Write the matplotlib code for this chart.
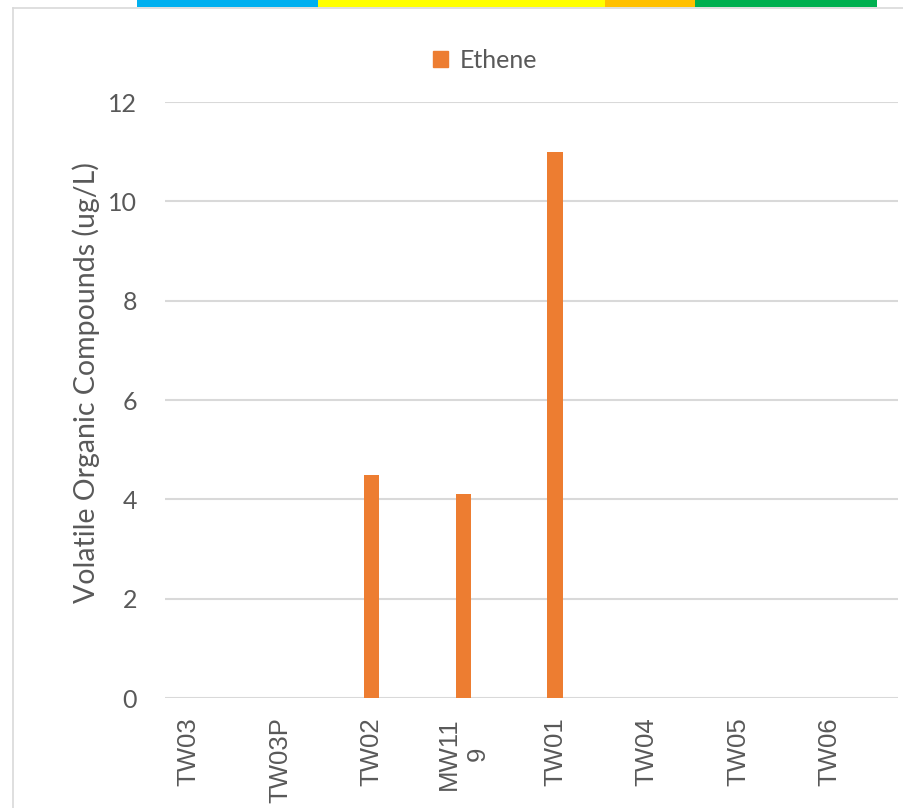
import matplotlib
matplotlib.use("Agg")
import matplotlib.pyplot as plt
from matplotlib.patches import Rectangle
from matplotlib.lines import Line2D

categories = ["TW03", "TW03P", "TW02", "MW11\n9", "TW01", "TW04", "TW05", "TW06"]
ethene = [0, 0, 4.5, 4.1, 11, 0, 0, 0]
y_ticks = [0, 2, 4, 6, 8, 10, 12]
band_colors = ["#00b0f0", "#ffff00", "#ffc000", "#00b050"]
band_edges_px = [137, 318, 605, 695, 877]

W, H = 904, 808
fig = plt.figure(figsize=(W / 100, H / 100), dpi=100)
fig.patch.set_facecolor("white")

def fx(px):
    return px / W

def fy(py):
    return 1 - py / H

# top colored bands
for i, c in enumerate(band_colors):
    x0, x1 = band_edges_px[i], band_edges_px[i + 1]
    fig.patches.append(Rectangle((fx(x0), fy(6.5)), fx(x1 - x0), 6.5 / H,
                                 transform=fig.transFigure, facecolor=c, edgecolor="none"))

# chart border
fig.lines.append(Line2D([fx(13.5), fx(W)], [fy(7.5), fy(7.5)], transform=fig.transFigure,
                        color="#d9d9d9", lw=1.2))
fig.lines.append(Line2D([fx(13.5), fx(13.5)], [fy(7.5), 0], transform=fig.transFigure,
                        color="#d9d9d9", lw=1.2))

left, right = 165, 898
top, bottom = 102, 698
ax = fig.add_axes([fx(left), fy(bottom), fx(right - left), (bottom - top) / H])
x = list(range(len(categories)))
ax.bar(x, ethene, width=0.165, color="#ed7d31", label="Ethene", zorder=3)
ax.set_xlim(-0.257, 7.745)
ax.set_ylim(0, 12)
ax.set_yticks(y_ticks)
ax.set_yticklabels([str(v) for v in y_ticks], fontsize=18, color="#595959", family="Lato")
ax.set_xticks(x)
ax.set_xticklabels(categories, rotation=90, fontsize=18.5, color="#595959",
                   family="Liberation Sans", va="top", ha="center", multialignment="center",
                   linespacing=1.25)
ax.tick_params(axis="both", length=0)
ax.tick_params(axis="y", pad=20)
ax.tick_params(axis="x", pad=14)
for s in ax.spines.values():
    s.set_visible(False)
ax.grid(axis="y", color="#d9d9d9", lw=1.5, zorder=0)
ax.set_axisbelow(True)
ax.set_facecolor("none")
ax.set_ylabel("Volatile Organic Compounds (ug/L)", fontsize=20.5, color="#595959",
              family="Lato")
ax.yaxis.set_label_coords((86 - left) / (right - left), (bottom - 383) / (bottom - top))
ax.yaxis.label.set_va("center")

fig.legend(handles=[Rectangle((0, 0), 1, 1, color="#ed7d31")], labels=["Ethene"],
           loc="center", bbox_to_anchor=(fx(485), fy(60)), frameon=False,
           prop={"family": "Lato", "size": 18}, labelcolor="#595959",
           handlelength=0.6, handleheight=0.6, handletextpad=0.45)

fig.savefig("out.png", dpi=100)
